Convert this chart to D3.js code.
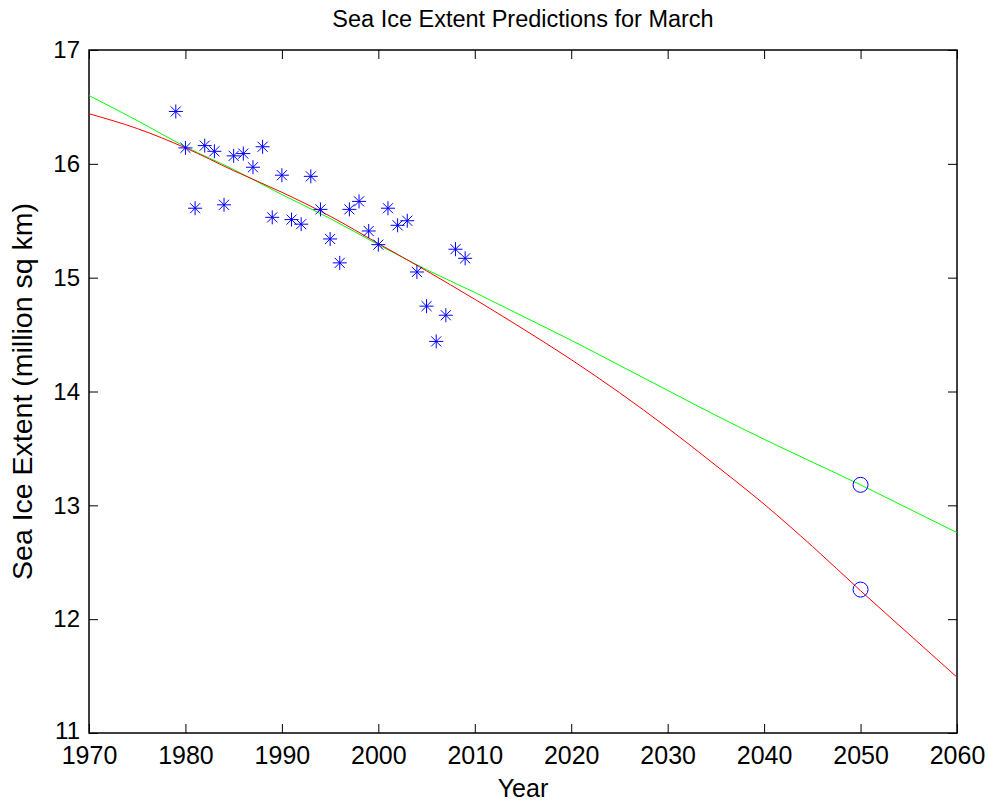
<!DOCTYPE html>
<html>
<head>
<meta charset="utf-8">
<script src="https://cdn.jsdelivr.net/npm/d3@7"></script>
<style>
  body { margin: 0; background: #fff; }
  text { font-family: 'Liberation Sans', Arial, Helvetica, sans-serif; fill: #000; }
</style>
</head>
<body>
<svg width="988" height="803"></svg>
<script>
// observed March extent (million sq km)
const obsYears = [1979, 1980, 1981, 1982, 1983, 1984, 1985, 1986, 1987, 1988, 1989, 1990,
  1991, 1992, 1993, 1994, 1995, 1996, 1997, 1998, 1999, 2000, 2001, 2002, 2003, 2004,
  2005, 2006, 2007, 2008, 2009]
const obsExtent = [16.46, 16.14, 15.61, 16.16, 16.11, 15.64, 16.07, 16.09, 15.97, 16.15, 15.53, 15.90,
  15.51, 15.47, 15.89, 15.60, 15.34, 15.13, 15.60, 15.67, 15.41, 15.29, 15.61, 15.46, 15.50, 15.05,
  14.75, 14.44, 14.67, 15.25, 15.17]

// fitted prediction curves
const fitYears = [1970, 1975, 1980, 1985, 1990, 1995, 2000, 2005, 2010, 2015, 2020, 2025,
  2030, 2035, 2040, 2045, 2050, 2055, 2060]
const greenFit = [16.60, 16.38, 16.15, 15.95, 15.73, 15.52, 15.29, 15.07, 14.87, 14.66, 14.45, 14.23,
  14.01, 13.79, 13.58, 13.38, 13.18, 12.97, 12.76]
const redFit = [16.44, 16.31, 16.14, 15.94, 15.75, 15.54, 15.30, 15.06, 14.81, 14.55, 14.28, 13.99,
  13.68, 13.35, 13.01, 12.64, 12.25, 11.87, 11.49]

// 2050 predictions
const predYears = [2050, 2050]
const predExtent = [13.18, 12.26]

const xTicks = [1970, 1980, 1990, 2000, 2010, 2020, 2030, 2040, 2050, 2060]
const yTicks = [11, 12, 13, 14, 15, 16, 17]

let svg = d3.select('svg')
const margin = { top: 50, right: 31, bottom: 70, left: 89 }
const width = 988 - margin.left - margin.right
const height = 803 - margin.top - margin.bottom

const g = svg.append('g').attr('transform', `translate(${margin.left},${margin.top})`)

const x = d3.scaleLinear().domain([1970, 2060]).range([0, width])
const y = d3.scaleLinear().domain([11, 17]).range([height, 0])

// ticks point inward, on all four sides
const tickLen = 9
const fmt = d3.format('d')
const xAxis = d3.axisBottom(x).tickValues(xTicks).tickFormat(fmt).tickSizeInner(-tickLen).tickSizeOuter(0).tickPadding(13)
const yAxis = d3.axisLeft(y).tickValues(yTicks).tickFormat(fmt).tickSizeInner(-tickLen).tickSizeOuter(0).tickPadding(9)

const gx = g.append('g').attr('transform', `translate(0,${height})`).call(xAxis)
const gy = g.append('g').call(yAxis)
g.append('g').call(d3.axisTop(x).tickValues(xTicks).tickFormat('').tickSizeInner(-tickLen).tickSizeOuter(0))
g.append('g').attr('transform', `translate(${width},0)`)
  .call(d3.axisRight(y).tickValues(yTicks).tickFormat('').tickSizeInner(-tickLen).tickSizeOuter(0))

g.selectAll('.domain').remove()
g.selectAll('.tick line').attr('stroke', '#000').attr('stroke-width', 1)
gx.selectAll('.tick text').style('font-size', '25px')
gy.selectAll('.tick text').style('font-size', '24px')
// the bottom y label sits just above the first year label, as in the original
gy.selectAll('.tick text').filter(d => d === 11).attr('dy', '0.22em')

g.append('rect')
  .attr('width', width)
  .attr('height', height)
  .attr('fill', 'none')
  .attr('stroke', '#000')
  .attr('stroke-width', 1.5)

// fit lines
const line = d3.line().x(d => x(d[0])).y(d => y(d[1])).curve(d3.curveMonotoneX)
g.append('path')
  .datum(fitYears.map((yr, i) => [yr, greenFit[i]]))
  .attr('d', line)
  .attr('fill', 'none')
  .attr('stroke', '#00ff00')
  .attr('stroke-width', 1)
g.append('path')
  .datum(fitYears.map((yr, i) => [yr, redFit[i]]))
  .attr('d', line)
  .attr('fill', 'none')
  .attr('stroke', '#ff0000')
  .attr('stroke-width', 1)

// asterisk markers
const r = 7
const rd = r * 0.72
const star = `M${-r},0H${r}M0,${-r}V${r}M${-rd},${-rd}L${rd},${rd}M${-rd},${rd}L${rd},${-rd}`
g.append('g')
  .selectAll('path')
  .data(obsYears.map((yr, i) => [yr, obsExtent[i]]))
  .enter()
  .append('path')
  .attr('transform', d => `translate(${x(d[0])},${y(d[1])})`)
  .attr('d', star)
  .attr('stroke', '#0000ff')
  .attr('stroke-width', 1)
  .attr('fill', 'none')

// circles at 2050
g.append('g')
  .selectAll('circle')
  .data(predYears.map((yr, i) => [yr, predExtent[i]]))
  .enter()
  .append('circle')
  .attr('cx', d => x(d[0]))
  .attr('cy', d => y(d[1]))
  .attr('r', 7.5)
  .attr('fill', 'none')
  .attr('stroke', '#0000ff')
  .attr('stroke-width', 1)

// titles
svg.append('text')
  .attr('x', margin.left + width / 2)
  .attr('y', 27)
  .attr('text-anchor', 'middle')
  .style('font-size', '23.5px')
  .text('Sea Ice Extent Predictions for March')

svg.append('text')
  .attr('x', margin.left + width / 2)
  .attr('y', 797)
  .attr('text-anchor', 'middle')
  .style('font-size', '25px')
  .text('Year')

svg.append('text')
  .attr('transform', `translate(32,${margin.top + height / 2}) rotate(-90)`)
  .attr('text-anchor', 'middle')
  .style('font-size', '28.5px')
  .text('Sea Ice Extent (million sq km)')
</script>
</body>
</html>
